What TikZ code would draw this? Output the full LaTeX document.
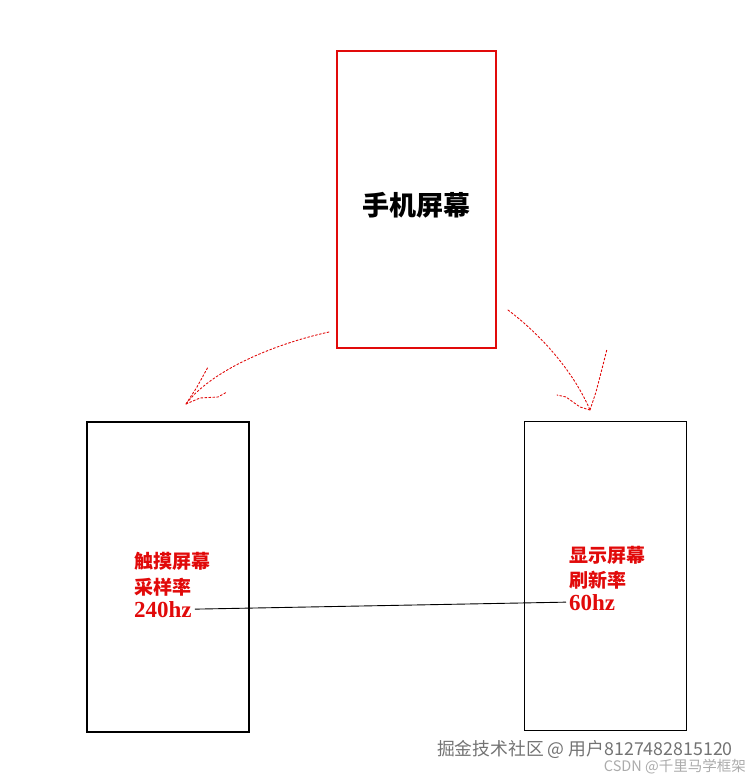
\documentclass[tikz,border=0pt]{standalone}
\usepackage{fontspec}
\setmainfont{Liberation Serif}
\newfontfamily\cjk{Noto Sans CJK SC}
\usetikzlibrary{positioning}
\definecolor{penred}{RGB}{225,10,10}
\definecolor{markgray}{RGB}{115,115,115}
\tikzset{x=1pt, y=-1pt, % one unit is one pixel of the sketch
screen/.style={ % the three rectangles
draw, inner sep=0pt},
rate/.style={ % red labels inside the lower rectangles
text=penred, inner sep=3pt, anchor=base west,
font=\fontsize{19}{22}\selectfont\bfseries},
hz/.style={rate, font=\fontsize{23}{26}\selectfont\bfseries},
sketch/.style={ % hand drawn arrows
draw=penred, line width=0.9pt, dash pattern=on 2pt off 2pt,
line cap=round, line join=round},
watermark/.style={anchor=base east, inner sep=0pt}}

\begin{document}
\begin{tikzpicture}
    \useasboundingbox (0,0) rectangle (753,779);

    \node[screen, draw=penred, line width=1.5pt, minimum width=159pt, minimum height=297pt] (phone) at (416.5,199.5) {};
    \node[font=\cjk\bfseries\fontsize{27}{30}\selectfont] (title) at (416,205) {手机屏幕};
    \node[screen, line width=1.5pt, minimum width=162pt, minimum height=310pt] (touch) at (168,577) {};
    \node[screen, line width=0.8pt, minimum width=162pt, minimum height=309pt] (display) at (605,575.5) {};

    \node[rate] (t1) at (131,568) {\cjk 触摸屏幕};
    \node[rate] (t2) at (131,594) {\cjk 采样率};
    \node[hz] (t3) at (131,617) {240hz};
    \node[rate] (d1) at (566,562) {\cjk 显示屏幕};
    \node[rate] (d2) at (566,587) {\cjk 刷新率};
    \node[hz] (d3) at (566,610) {60hz};

    \draw[line width=0.9pt] (t3.east) -- (d3.west);

    \coordinate (lstart) at (329,332);
    \coordinate (ltip) at (186,404);
    \coordinate (rstart) at (508,310);
    \coordinate (rtip) at (590,410);

    \draw[sketch] (lstart) .. controls (270,345) and (210,372) .. (ltip);
    \draw[sketch] (ltip) -- (197,387) -- (208,367);
    \draw[sketch] (ltip) -- (200,398) -- (218,397) -- (227,392);
    \draw[sketch] (rstart) .. controls (545,338) and (575,375) .. (rtip);
    \draw[sketch] (rtip) -- (596,392) -- (603,365) -- (607,349);
    \draw[sketch] (rtip) -- (580,407) -- (566,397) -- (557,395);

    \node[watermark, text=markgray, font=\cjk\fontsize{17.8}{20}\selectfont] (wm1) at (733,755) {掘金技术社区 @ 用户8127482815120};
    \node[watermark, text=markgray!60, font=\cjk\fontsize{14.5}{16}\selectfont] (wm2) at (746,771) {CSDN @千里马学框架};
\end{tikzpicture}
\end{document}
